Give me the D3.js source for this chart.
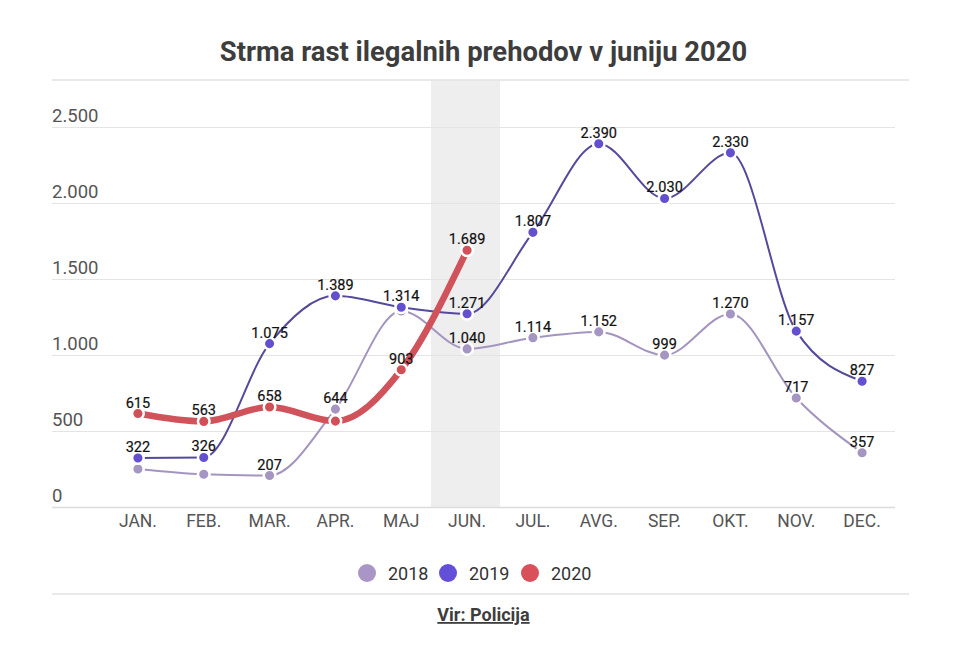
<!DOCTYPE html>
<html>
<head>
<meta charset="utf-8">
<script src="https://cdn.jsdelivr.net/npm/d3@7"></script>
<style>
    html, body { margin: 0; padding: 0; background: #fff; }
    svg { display: block; font-family: Roboto, sans-serif; }
    .grid line { stroke: #e4e4e4; stroke-width: 1.2; }
    .grid path { display: none; }
    .y-axis, .x-axis { font-family: Roboto, sans-serif; }
    .y-axis text { font-size: 18.5px; fill: #555; text-anchor: start; }
    .x-axis text { font-size: 17.5px; fill: #555; font-weight: 400; }
    .value { font-size: 14.5px; fill: #111; text-anchor: middle; font-weight: 400; stroke: #111; stroke-width: 0.2; }
</style>
</head>
<body>
<div id="view"></div>
<script>
const titleText = 'Strma rast ilegalnih prehodov v juniju 2020';
const sourceText = 'Vir: Policija';
const months = ['JAN.', 'FEB.', 'MAR.', 'APR.', 'MAJ', 'JUN.', 'JUL.', 'AVG.', 'SEP.', 'OKT.', 'NOV.', 'DEC.'];
const yTicks = [0, 500, 1000, 1500, 2000, 2500];
const highlightMonth = 'JUN.';

const values2018 = [250, 215, 207, 644, 1290, 1040, 1114, 1152, 999, 1270, 717, 357];
const values2019 = [322, 326, 1075, 1389, 1314, 1271, 1807, 2390, 2030, 2330, 1157, 827];
const values2020 = [615, 563, 658, 565, 903, 1689];

// months without a printed value in the original
const unlabelled2018 = ['JAN.', 'FEB.', 'MAJ'];
const unlabelled2019 = [];
const unlabelled2020 = ['APR.'];

const years = ['2018', '2019', '2020'];
const lineColors = ['#a495c0', '#544a9c', '#d0525a'];
const dotColors = ['#a595c2', '#6350cf', '#d15057'];
const legendColors = ['#a996c6', '#6450d8', '#d9505a'];
const lineWidths = [2, 2, 6.5];

const series = [
    {values: values2018, unlabelled: unlabelled2018},
    {values: values2019, unlabelled: unlabelled2019},
    {values: values2020, unlabelled: unlabelled2020}
];

const width = 960;
const height = 660;
const margin = {top: 127, left: 105, right: 65, bottom: 153};
const ruleLeft = 52;

const svg = d3.select('#view')
    .append('svg')
        .attr('width', width)
        .attr('height', height);

const x = d3.scaleBand().domain(months).range([margin.left, width - margin.right]);
const y = d3.scaleLinear().domain([0, 2500]).range([height - margin.bottom, margin.top]);
const dec = d3.formatLocale({decimal: ',', thousands: '.', grouping: [3], currency: ['', '']}).format(',');

// June band
svg.append('rect')
    .attr('x', x(highlightMonth) - 3.2)
    .attr('y', 80)
    .attr('width', x.bandwidth() + 3.2)
    .attr('height', y(0) - 80)
    .attr('fill', '#eeeeee');

// title and rules
svg.append('text')
    .attr('x', 483.5)
    .attr('y', 61)
    .attr('text-anchor', 'middle')
    .attr('font-size', 27.4)
    .attr('font-weight', 700)
    .attr('fill', '#3d3d3d')
    .text(titleText);

svg.selectAll('line.rule')
    .data([80, 594])
    .join('line')
        .attr('class', 'rule')
        .attr('x1', ruleLeft)
        .attr('x2', 909)
        .attr('y1', d => d)
        .attr('y2', d => d)
        .attr('stroke', '#e2e2e2')
        .attr('stroke-width', 1.5);

// Y axis with grid
const yAxis = svg.append('g')
    .attr('class', 'grid y-axis')
    .attr('transform', `translate(${width - margin.right}, 0)`)
    .call(d3.axisLeft(y).tickValues(yTicks).tickSize(width - margin.right - ruleLeft).tickFormat(dec));
yAxis.selectAll('text')
    .attr('x', -(width - margin.right - ruleLeft))
    .attr('dy', '-6');
yAxis.selectAll('.tick line')
    .filter(d => d == 0)
    .style('stroke', '#dcdcdc')
    .style('stroke-width', 1.6);

// X axis
const xAxis = svg.append('g')
    .attr('class', 'x-axis')
    .attr('transform', `translate(0, ${y(0)})`)
    .call(d3.axisBottom(x).tickSize(0).tickPadding(8));
xAxis.select('.domain').remove();

// Lines
const line = d3.line()
    .x((d, i) => x(months[i]) + x.bandwidth() / 2)
    .y(d => y(d))
    .curve(d3.curveMonotoneX);

series.forEach((s, k) => {
    svg.append('path')
        .datum(s.values)
        .attr('fill', 'none')
        .attr('stroke', lineColors[k])
        .attr('stroke-width', lineWidths[k])
        .attr('d', line);
});

// Dots on top of the lines, white ring leaves the small gap
series.forEach((s, k) => {
    svg.append('g')
        .selectAll('circle')
        .data(s.values)
        .join('circle')
            .attr('cx', (d, i) => x(months[i]) + x.bandwidth() / 2)
            .attr('cy', d => y(d))
            .attr('r', 5.8)
            .attr('fill', dotColors[k])
            .attr('stroke', '#fff')
            .attr('stroke-width', 2.5);
});

// Value labels
series.forEach((s) => {
    svg.append('g')
        .selectAll('text')
        .data(s.values)
        .join('text')
            .attr('class', 'value')
            .attr('x', (d, i) => x(months[i]) + x.bandwidth() / 2)
            .attr('y', d => y(d) - 6)
            .text((d, i) => s.unlabelled.includes(months[i]) ? '' : dec(d));
});

// Legend
const legendX = [367, 448, 530];
const legend = svg.append('g')
    .selectAll('g')
    .data(years)
    .join('g')
        .attr('transform', (d, i) => `translate(${legendX[i]}, 573)`);
legend.append('circle')
    .attr('r', 9)
    .attr('fill', (d, i) => legendColors[i]);
legend.append('text')
    .attr('x', 21)
    .attr('y', 6.5)
    .attr('font-size', 18)
    .attr('fill', '#333')
    .text(d => d);

// Source
svg.append('text')
    .attr('x', 483.5)
    .attr('y', 621)
    .attr('text-anchor', 'middle')
    .attr('font-size', 18)
    .attr('font-weight', 700)
    .attr('fill', '#3d3d3d')
    .attr('text-decoration', 'underline')
    .text(sourceText);
</script>
</body>
</html>
